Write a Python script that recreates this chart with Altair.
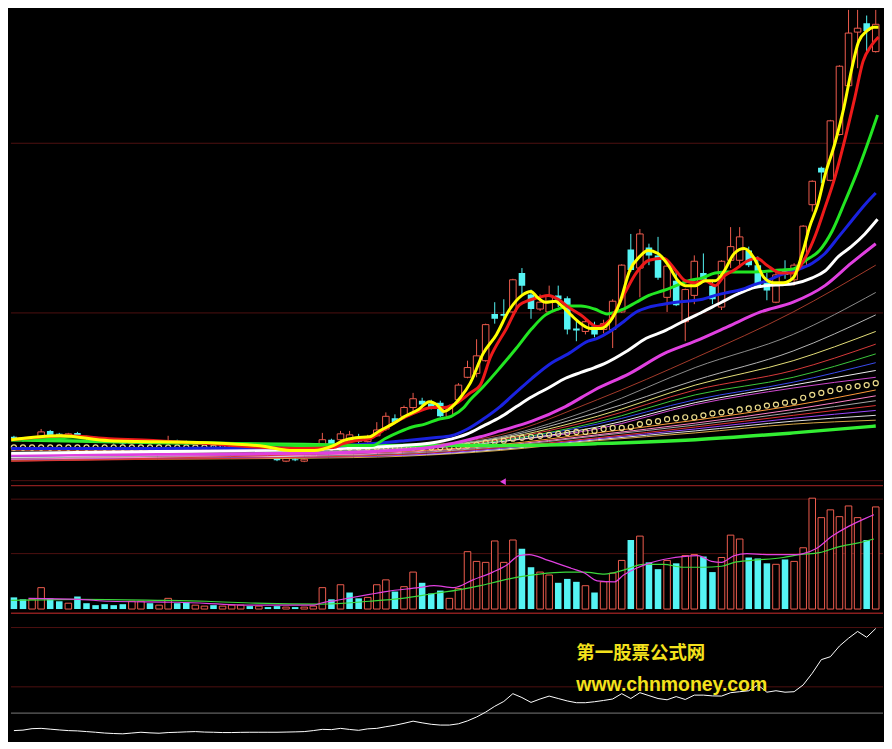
import altair as alt
import pandas as pd

# ---------------- data ----------------
idx = list(range(96))
open_ = [5.2, 5.0, 4.8, 5.1, 5.8, 5.5, 5.2, 5.6, 5.2, 5.0,
         4.9, 4.8, 4.7, 4.5, 4.6, 4.8, 4.5, 4.6, 4.8, 4.7,
         4.4, 4.4, 4.5, 4.3, 4.3, 4.3, 4.4, 4.2, 4.1, 3.1,
         2.7, 2.9, 2.7, 3.2, 4.4, 4.9, 4.9, 4.9, 4.9, 4.7,
         5.3, 6.0, 7.1, 7.3, 8.2, 8.9, 8.6, 8.7, 7.3, 9.0,
         11.3, 11.7, 13.0, 17.8, 17.8, 18.0, 22.0, 19.8, 18.3, 18.0,
         19.7, 19.4, 16.3, 16.0, 16.5, 16.2, 16.2, 18.0, 24.4, 22.5,
         24.6, 23.8, 19.5, 21.2, 17.0, 19.7, 22.0, 20.7, 18.5, 23.3,
         23.3, 24.3, 22.8, 21.0, 19.0, 22.2, 21.3, 22.7, 29.0, 32.8,
         31.5, 36.2, 41.2, 46.7, 47.6, 44.7]
high = [5.3, 5.1, 5.2, 6.0, 5.9, 5.6, 5.6, 5.7, 5.3, 5.1,
        5.0, 4.9, 4.8, 4.8, 4.9, 4.9, 4.7, 5.3, 4.9, 4.8,
        4.6, 4.6, 4.6, 4.5, 4.5, 4.5, 4.5, 4.4, 4.2, 3.2,
        3.1, 3.0, 3.0, 4.1, 5.6, 5.0, 5.8, 5.8, 5.5, 5.4,
        6.7, 7.7, 7.5, 8.4, 9.7, 9.2, 9.0, 8.9, 8.5, 10.7,
        13.0, 15.2, 16.8, 19.0, 19.3, 21.4, 22.5, 20.3, 19.8, 20.7,
        20.7, 19.6, 17.2, 17.2, 17.0, 17.2, 19.3, 22.9, 26.0, 26.5,
        25.0, 25.7, 22.8, 22.2, 20.4, 23.8, 24.0, 21.3, 23.3, 26.7,
        26.7, 24.7, 23.7, 22.0, 22.4, 23.3, 23.0, 26.9, 31.5, 32.9,
        37.7, 43.3, 49.0, 49.0, 48.4, 49.0]
low = [4.8, 4.7, 4.7, 5.0, 5.2, 5.2, 5.1, 5.1, 4.9, 4.7,
       4.6, 4.5, 4.4, 4.4, 4.5, 4.5, 4.4, 4.6, 4.5, 4.4,
       4.3, 4.3, 4.2, 4.2, 4.2, 4.2, 4.1, 4.1, 3.3, 2.7,
       2.6, 2.7, 2.6, 3.1, 4.3, 4.2, 4.8, 4.8, 4.5, 4.6,
       5.2, 5.8, 6.5, 7.0, 7.7, 8.3, 8.0, 7.2, 7.1, 8.8,
       11.2, 11.3, 12.9, 16.8, 17.3, 17.9, 19.7, 17.3, 18.1, 17.9,
       18.5, 15.7, 15.0, 15.7, 15.4, 15.8, 14.3, 17.9, 22.1, 19.5,
       22.8, 21.3, 18.0, 18.6, 15.0, 18.8, 21.0, 18.8, 18.2, 22.5,
       22.5, 22.6, 20.5, 19.2, 18.9, 21.4, 20.7, 22.4, 28.3, 31.2,
       31.4, 36.1, 41.1, 43.0, 44.5, 44.6]
close = [4.9, 4.8, 5.1, 5.7, 5.3, 5.3, 5.5, 5.2, 5.0, 4.8,
         4.7, 4.6, 4.5, 4.7, 4.8, 4.6, 4.6, 4.8, 4.6, 4.5,
         4.5, 4.5, 4.3, 4.4, 4.4, 4.4, 4.2, 4.3, 3.4, 2.8,
         3.0, 2.8, 2.9, 4.0, 4.9, 4.3, 5.5, 5.4, 4.7, 5.2,
         5.9, 7.3, 6.7, 8.2, 9.1, 8.5, 8.2, 7.3, 8.2, 10.5,
         12.3, 13.5, 16.7, 17.3, 17.6, 21.3, 20.7, 18.3, 19.0, 19.7,
         19.3, 16.2, 16.1, 17.0, 15.7, 16.8, 19.1, 22.8, 22.3, 26.0,
         23.8, 21.5, 22.7, 18.7, 20.3, 23.2, 21.3, 19.3, 23.2, 24.7,
         25.7, 22.8, 20.7, 20.2, 21.8, 21.8, 22.8, 26.8, 31.4, 32.3,
         37.6, 43.2, 46.6, 47.1, 46.8, 47.5]

volume = [12, 10, 10, 22, 11, 8, 6, 13, 6, 4,
          5, 4, 5, 8, 8, 6, 4, 11, 6, 7,
          4, 3, 4, 3, 4, 4, 3, 3, 2, 3,
          2, 2, 2, 3, 22, 10, 25, 17, 11, 12,
          25, 30, 18, 23, 38, 27, 16, 19, 11, 21,
          59, 49, 48, 70, 48, 71, 62, 43, 38, 35,
          27, 31, 28, 24, 17, 28, 37, 50, 71, 75,
          48, 41, 50, 47, 55, 56, 54, 38, 53, 76,
          72, 53, 52, 47, 46, 51, 49, 63, 114, 94,
          102, 95, 106, 94, 71, 105]
vol_up = [0, 0, 1, 1, 0, 0, 1, 0, 0, 0,
          0, 0, 0, 1, 1, 0, 1, 1, 0, 0,
          1, 1, 0, 1, 1, 1, 0, 1, 0, 0,
          1, 0, 1, 1, 1, 0, 1, 0, 0, 1,
          1, 1, 0, 1, 1, 0, 0, 0, 1, 1,
          1, 1, 1, 1, 1, 1, 0, 0, 1, 1,
          0, 0, 0, 1, 0, 1, 1, 1, 0, 1,
          0, 0, 1, 0, 1, 1, 0, 0, 1, 1,
          1, 0, 0, 0, 1, 0, 1, 1, 1, 1,
          1, 1, 1, 1, 0, 1]

vma5_idx = [1.6, 7.2, 10.5, 18.0, 26.6, 33.1, 33.8, 35.6, 39.2, 41.0,
            44.6, 46.3, 48.5, 50.6, 52.8, 54.3, 55.7, 56.8, 58.9, 61.4,
            62.9, 64.3, 66.2, 67.2, 68.6, 70.0, 72.2, 73.7, 75.4, 76.9,
            78.0, 79.4, 80.8, 83.0, 86.2, 87.0, 88.4, 90.2, 92.0, 93.8, 94.8]
vma5 = [11, 10, 8, 7, 4, 4, 6, 9, 15, 18,
        22, 24, 22, 30, 38, 45, 55, 56, 50, 42,
        37, 29, 28, 35, 42, 47, 52, 54, 55, 49,
        48, 55, 57, 56, 56, 57, 62, 75, 85, 93, 97]
vma10_idx = [-0.3, 7.2, 15.8, 21.2, 26.6, 33.8, 39.2, 42.8, 46.3, 49.2,
             51.4, 53.6, 55.7, 57.9, 60.8, 62.9, 65.1, 67.2, 69.4, 71.6,
             73.7, 75.9, 78.0, 79.4, 81.3, 84.8, 86.6, 88.8, 90.9, 93.1, 94.8]
vma10 = [9, 10, 9, 8, 6, 5, 8, 11, 16, 20,
         24, 29, 33, 36, 38, 38, 36, 40, 46, 46,
         43, 43, 44, 48, 50, 53, 56, 58, 64, 68, 72]

indicator = [-18, -17.5, -16, -15.7, -16.5, -17.3, -18, -18.3, -19, -19.7,
             -20.5, -21, -21.3, -20.5, -19.7, -20.3, -20.7, -20, -19.7, -19.3,
             -19, -19.5, -19.7, -20, -20, -19.8, -19.7, -19.7, -19.7, -19.7,
             -19.5, -19.3, -19, -18, -16.7, -17, -15.7, -16.8, -17.7, -16.2,
             -15.7, -14, -12.5, -10.5, -8.3, -10, -11.5, -12.3, -12.3, -11,
             -8, -4, 1, 7, 12, 20, 16, 11, 14.5, 17.5,
             15, 12.5, 10.7, 10.7, 11.7, 13, 14.5, 20, 15, 21,
             18, 15, 13.7, 17, 14, 18.5, 18.5, 17.7, 17.5, 21,
             22, 23, 29, 21.5, 23, 21.5, 22, 29, 41, 55,
             58, 69, 77, 84, 78, 87]

# price moving averages (index position, price)
ma5_idx = [-0.3, 5.1, 10.5, 21.2, 27.7, 30.4, 33.1, 35.2, 36.3, 37.7,
           39.2, 40.3, 41.7, 43.1, 44.6, 45.8, 46.6, 47.4, 48.2, 49.2,
           50.3, 51.7, 53.2, 54.6, 56.0, 57.0, 57.7, 58.6, 59.7, 60.3,
           61.4, 62.5, 63.6, 64.7, 65.7, 66.8, 67.9, 69.0, 69.9, 71.0,
           72.2, 73.2, 74.0, 75.1, 76.2, 77.3, 78.3, 79.4, 80.5, 81.6,
           82.7, 83.7, 84.8, 85.9, 87.0, 87.7, 88.6, 89.4, 90.5, 91.5,
           92.3, 93.1, 94.0, 94.8, 95.3]
ma5 = [4.9, 5.3, 4.8, 4.6, 4.2, 3.8, 3.8, 4.3, 4.8, 5.1,
       5.2, 5.8, 6.5, 7.3, 8.0, 8.8, 8.5, 7.8, 8.2, 9.2,
       10.7, 13.7, 15.7, 18.2, 19.7, 20.1, 19.5, 19.0, 19.1, 18.7,
       17.7, 16.8, 16.3, 16.3, 17.0, 19.0, 22.3, 23.7, 24.3, 24.0,
       22.7, 21.2, 20.7, 20.7, 21.2, 21.2, 22.2, 24.0, 24.5, 23.5,
       21.5, 21.0, 21.0, 21.5, 24.3, 26.7, 29.0, 32.0, 35.3, 39.0,
       42.7, 45.7, 46.8, 47.2, 47.2]
ma10_idx = [-0.3, 6.1, 10.5, 15.8, 21.2, 27.7, 32.0, 35.2, 36.3, 37.7,
            39.2, 40.6, 41.7, 43.1, 44.6, 46.0, 47.4, 48.9, 50.3, 51.4,
            52.5, 54.3, 55.7, 56.8, 57.9, 58.9, 60.0, 61.1, 62.5, 64.3,
            65.7, 67.2, 68.6, 70.0, 71.6, 73.0, 74.0, 75.1, 76.2, 77.3,
            78.3, 79.4, 80.8, 81.9, 83.0, 84.5, 85.9, 87.3, 88.4, 89.4,
            90.5, 91.6, 92.7, 93.6, 94.5, 95.3]
ma10 = [4.9, 5.3, 5.0, 4.8, 4.5, 4.1, 4.0, 4.1, 4.5, 4.8,
        5.0, 5.8, 6.5, 7.2, 7.8, 8.2, 8.2, 8.7, 9.7, 10.5,
        13.3, 16.3, 18.7, 19.2, 19.5, 19.7, 19.3, 18.5, 17.7, 16.5,
        17.2, 19.7, 22.0, 23.3, 23.5, 22.2, 21.2, 21.0, 21.2, 20.7,
        21.7, 22.3, 23.2, 23.5, 22.8, 22.0, 22.0, 23.7, 26.0, 28.7,
        31.8, 35.7, 40.0, 43.7, 45.3, 46.2]
ma20_idx = [-0.3, 4.0, 7.2, 11.5, 21.2, 32.0, 39.5, 40.9, 42.5, 43.9,
            45.3, 46.8, 48.2, 49.6, 50.3, 51.7, 53.6, 55.4, 57.1, 58.6,
            60.0, 61.1, 62.5, 64.0, 65.4, 67.2, 68.6, 70.0, 71.6, 73.0,
            74.4, 75.9, 77.3, 78.7, 81.6, 84.5, 85.9, 87.3, 88.8, 90.2,
            91.6, 93.1, 94.5, 95.2]
ma20 = [4.9, 5.0, 5.2, 4.8, 4.6, 4.3, 4.3, 5.0, 5.7, 6.2,
        6.5, 7.0, 7.3, 8.2, 9.0, 10.3, 12.3, 14.3, 16.3, 17.7,
        18.3, 18.6, 18.6, 18.3, 17.8, 18.3, 19.0, 19.7, 20.2, 20.7,
        21.2, 21.5, 22.0, 22.1, 22.1, 22.3, 22.4, 23.3, 24.3, 26.3,
        29.3, 32.7, 36.3, 38.2]
ma30_idx = [-0.3, 15.8, 32.0, 43.1, 46.3, 48.2, 50.0, 51.7, 53.6, 55.4,
            57.1, 59.3, 61.1, 63.3, 64.3, 65.7, 67.2, 68.6, 70.0, 71.6,
            73.0, 75.9, 77.3, 78.7, 80.2, 81.6, 83.0, 84.5, 85.9, 88.0,
            89.4, 90.9, 92.3, 93.8, 95.0]
ma30 = [4.0, 4.0, 4.1, 4.8, 5.1, 5.3, 6.0, 7.0, 8.3, 9.8,
        11.2, 12.8, 13.7, 15.0, 15.3, 16.0, 17.0, 18.0, 18.5, 18.8,
        19.0, 19.3, 19.7, 20.0, 20.3, 20.8, 21.2, 21.8, 22.2, 23.0,
        24.0, 25.7, 27.3, 29.0, 30.2]
ma60_idx = [-0.3, 15.8, 32.0, 42.8, 47.4, 50.0, 51.7, 53.6, 55.4, 57.1,
            58.9, 60.8, 62.5, 64.0, 65.1, 67.6, 69.7, 71.6, 73.7, 75.9,
            78.0, 80.2, 81.6, 83.0, 84.5, 85.9, 88.0, 89.4, 90.9, 92.3,
            93.8, 95.2]
ma60 = [3.5, 3.7, 3.9, 4.3, 4.8, 5.5, 6.3, 7.2, 8.3, 9.3,
        10.2, 11.2, 11.8, 12.3, 12.7, 14.0, 15.3, 16.0, 17.0, 18.0,
        19.0, 20.0, 20.5, 20.7, 20.8, 20.9, 21.5, 22.2, 23.7, 24.7,
        26.0, 27.5]
ma90_idx = [-0.3, 15.8, 32.0, 44.9, 51.4, 53.6, 57.1, 60.8, 64.0, 67.9,
            71.6, 75.1, 78.7, 82.3, 85.9, 89.4, 92.3, 95.0]
ma90 = [3.3, 3.4, 3.5, 4.0, 5.2, 5.8, 6.8, 8.3, 10.0, 11.7,
        13.7, 15.0, 16.5, 18.0, 19.0, 20.7, 23.0, 25.0]

# long averages (fan of thin lines), sampled at these index positions
fan_idx = [-0.3, 15.8, 32.0, 42.8, 53.6, 64.3, 75.1, 85.9, 95.0]
fan_brown = [3.8, 3.8, 3.9, 4.2, 5.4, 9.0, 13.3, 18.0, 22.8]
fan_grey1 = [3.5, 3.6, 3.7, 4.1, 5.2, 8.2, 12.3, 15.7, 20.0]
fan_grey2 = [3.3, 3.4, 3.6, 4.0, 5.1, 7.7, 11.0, 14.0, 17.7]
fan_yellow = [3.8, 3.9, 3.9, 4.1, 5.0, 7.3, 10.5, 13.0, 16.0]
fan_red = [2.7, 3.0, 3.4, 3.9, 4.9, 7.0, 10.0, 12.0, 14.7]
fan_green = [3.5, 3.6, 3.7, 4.0, 4.8, 6.7, 9.5, 11.3, 13.7]
fan_blue = [3.2, 3.4, 3.6, 3.9, 4.8, 6.5, 9.0, 10.8, 12.8]
fan_white = [3.1, 3.3, 3.5, 3.9, 4.7, 6.2, 8.7, 10.5, 12.0]
fan_magenta = [3.3, 3.3, 3.4, 3.8, 4.7, 6.0, 8.5, 10.2, 11.3]
low_orange = [3.5, 3.5, 3.5, 3.7, 4.4, 5.6, 6.9, 8.4, 10.0]
low_pink = [2.9, 3.1, 3.3, 3.6, 4.3, 5.4, 6.6, 8.0, 9.4]
low_grey = [3.0, 3.2, 3.3, 3.5, 4.2, 5.3, 6.4, 7.7, 8.9]
low_red = [2.7, 2.9, 3.1, 3.4, 4.1, 5.1, 6.2, 7.4, 8.4]
low_purple = [2.9, 3.0, 3.1, 3.3, 4.0, 5.0, 6.0, 7.1, 7.9]
low_white = [3.1, 3.1, 3.2, 3.3, 3.9, 4.9, 5.8, 6.8, 7.4]
low_gold = [2.8, 2.9, 3.0, 3.2, 3.8, 4.8, 5.6, 6.5, 6.9]
base_green = [4.9, 4.6, 4.4, 4.3, 4.3, 4.5, 4.9, 5.6, 6.3]

circles = [4.1] * 49 + [4.2, 4.3, 4.4, 4.6, 4.7, 4.8, 5.0, 5.1, 5.2, 5.3,
                        5.4, 5.5, 5.6, 5.7, 5.7, 5.8, 6.0, 6.1, 6.1, 6.2,
                        6.5, 6.7, 6.8, 7.0, 7.1, 7.2, 7.2, 7.4, 7.6, 7.7,
                        7.8, 8.0, 8.1, 8.2, 8.4, 8.5, 8.7, 8.8, 9.2, 9.5,
                        9.7, 9.9, 10.1, 10.3, 10.4, 10.5, 10.7]

price_grid = [35.3, 17.9, 0.7]
vol_grid = [113, 57]
ind_grid = [88, 27]
marker_idx = [53.9]
marker_price = [0.6]
watermark = ["第一股票公式网", "www.chnmoney.com"]

# ---------------- styling ----------------
RED = "#ee5c4e"
CYAN = "#55f4f4"
GRID = "#4e1010"
EDGE = "#8a1e1e"
W = 876
H_PRICE, H_VOL, H_IND = 480, 127, 126
XS = alt.Scale(domain=[-0.323, 95.8], nice=False, zero=False)
PS = alt.Scale(domain=[0, 49], nice=False, zero=False)
VS = alt.Scale(domain=[-5, 125], nice=False, zero=False)
IS = alt.Scale(domain=[-28, 101], nice=False, zero=False)


def xq(f):
    return alt.X(f + ":Q", scale=XS, axis=None)


# ---------------- price panel ----------------
cdf = pd.DataFrame({"i": idx, "o": open_, "h": high, "l": low, "c": close})
cdf["dir"] = ["up" if c >= o else "down" for o, c in zip(open_, close)]
cdf["x0"] = cdf["i"] - 0.36
cdf["x1"] = cdf["i"] + 0.36
cdf["top"] = cdf[["o", "c"]].max(axis=1)
cdf["bot"] = cdf[["o", "c"]].min(axis=1)

dir_color = alt.Color("dir:N", scale=alt.Scale(domain=["up", "down"], range=[RED, CYAN]), legend=None)

layers = []
layers.append(alt.Chart(pd.DataFrame({"p": price_grid})).mark_rule(color=GRID, strokeWidth=1)
              .encode(y=alt.Y("p:Q", scale=PS, axis=None)))
layers.append(alt.Chart(pd.DataFrame({"p": [0.2]})).mark_rule(color=EDGE, strokeWidth=1.2)
              .encode(y=alt.Y("p:Q", scale=PS, axis=None)))
layers.append(alt.Chart(cdf).mark_rule(strokeWidth=1, clip=True)
              .encode(x=xq("i"), y=alt.Y("l:Q", scale=PS, axis=None), y2="h:Q", color=dir_color))
layers.append(alt.Chart(cdf).transform_filter("datum.dir == 'up'")
              .mark_bar(fill="black", stroke=RED, strokeWidth=1, clip=True)
              .encode(x=xq("x0"), x2="x1:Q", y=alt.Y("bot:Q", scale=PS, axis=None), y2="top:Q"))
layers.append(alt.Chart(cdf).transform_filter("datum.dir == 'down'")
              .mark_bar(color=CYAN, clip=True)
              .encode(x=xq("x0"), x2="x1:Q", y=alt.Y("bot:Q", scale=PS, axis=None), y2="top:Q"))


def line_layer(xs, ys, color, width, scale=PS, interp="monotone"):
    df = pd.DataFrame({"i": xs, "p": ys})
    return (alt.Chart(df).mark_line(color=color, strokeWidth=width, interpolate=interp, clip=True)
            .encode(x=xq("i"), y=alt.Y("p:Q", scale=scale, axis=None)))


for vals, col in [(low_gold, "#d8a848"), (low_white, "#e0e0e0"), (low_purple, "#9a48ff"),
                  (low_red, "#e03434"), (low_grey, "#a8a8a8"), (low_pink, "#ff80c8"),
                  (low_orange, "#ff9a3a"), (fan_magenta, "#d048d0"), (fan_white, "#f0f0f0"),
                  (fan_blue, "#3a4cf0"), (fan_green, "#3cc83c"), (fan_red, "#d83a3a"),
                  (fan_yellow, "#e6e07a"), (fan_grey2, "#b4b4b4"), (fan_grey1, "#8c8c8c"),
                  (fan_brown, "#a33a2a")]:
    layers.append(line_layer(fan_idx, vals, col, 1))

layers.append(alt.Chart(pd.DataFrame({"i": idx, "p": circles}))
              .mark_point(shape="circle", filled=False, size=26, color="#ecdc8c", strokeWidth=1.2, opacity=1)
              .encode(x=xq("i"), y=alt.Y("p:Q", scale=PS, axis=None)))
layers.append(line_layer(fan_idx, base_green, "#33ee33", 3.5))
layers.append(line_layer(ma90_idx, ma90, "#e040e0", 3))
layers.append(line_layer(ma60_idx, ma60, "#ffffff", 3))
layers.append(line_layer(ma30_idx, ma30, "#1a22e0", 3))
layers.append(line_layer(ma20_idx, ma20, "#22e622", 3))
layers.append(line_layer(ma10_idx, ma10, "#ee1a1a", 3))
layers.append(line_layer(ma5_idx, ma5, "#ffff00", 3))
layers.append(alt.Chart(pd.DataFrame({"i": marker_idx, "p": marker_price}))
              .mark_point(shape="triangle-left", filled=True, size=45, color="#e040e0", opacity=1)
              .encode(x=xq("i"), y=alt.Y("p:Q", scale=PS, axis=None)))

price = alt.layer(*layers).properties(width=W, height=H_PRICE)

# ---------------- volume panel ----------------
vdf = pd.DataFrame({"i": idx, "v": volume, "dir": ["up" if u else "down" for u in vol_up]})
vdf["x0"] = vdf["i"] - 0.36
vdf["x1"] = vdf["i"] + 0.36
vdf["zero"] = 0

vlayers = [
    alt.Chart(pd.DataFrame({"v": vol_grid})).mark_rule(color=GRID, strokeWidth=1)
    .encode(y=alt.Y("v:Q", scale=VS, axis=None)),
    alt.Chart(pd.DataFrame({"v": [-4.3]})).mark_rule(color=EDGE, strokeWidth=1.5)
    .encode(y=alt.Y("v:Q", scale=VS, axis=None)),
    alt.Chart(vdf).transform_filter("datum.dir == 'up'")
    .mark_bar(fill="black", stroke=RED, strokeWidth=1)
    .encode(x=xq("x0"), x2="x1:Q", y=alt.Y("zero:Q", scale=VS, axis=None), y2="v:Q"),
    alt.Chart(vdf).transform_filter("datum.dir == 'down'")
    .mark_bar(color=CYAN)
    .encode(x=xq("x0"), x2="x1:Q", y=alt.Y("zero:Q", scale=VS, axis=None), y2="v:Q"),
    line_layer(vma10_idx, vma10, "#3cd83c", 1.2, VS),
    line_layer(vma5_idx, vma5, "#e040e0", 1.2, VS),
]
vol = alt.layer(*vlayers).properties(width=W, height=H_VOL)

# ---------------- indicator panel ----------------
tdf = pd.DataFrame({"i": [62.0, 62.0], "v": [62, 29], "t": watermark})
ilayers = [
    alt.Chart(pd.DataFrame({"v": ind_grid})).mark_rule(color=GRID, strokeWidth=1)
    .encode(y=alt.Y("v:Q", scale=IS, axis=None)),
    alt.Chart(pd.DataFrame({"v": [0]})).mark_rule(color="#7a7a7a", strokeWidth=1)
    .encode(y=alt.Y("v:Q", scale=IS, axis=None)),
    line_layer(idx, indicator, "#ffffff", 1, IS, "linear"),
    alt.Chart(tdf.iloc[[0]]).mark_text(align="left", baseline="middle", font="Noto Sans CJK SC",
                                       fontSize=18.5, fontWeight="bold", color="#f4e21c")
    .encode(x=xq("i"), y=alt.Y("v:Q", scale=IS, axis=None), text="t:N"),
    alt.Chart(tdf.iloc[[1]]).mark_text(align="left", baseline="middle", font="Liberation Sans",
                                       fontSize=19.5, fontWeight="bold", color="#f4e21c")
    .encode(x=xq("i"), y=alt.Y("v:Q", scale=IS, axis=None), text="t:N"),
]
ind = alt.layer(*ilayers).properties(width=W, height=H_IND)

chart = (alt.vconcat(price, vol, ind, spacing=0)
         .properties(background="black", padding=0)
         .configure_view(stroke=None)
         .configure_concat(spacing=0))

chart.save("out.html", embed_options={"renderer": "svg", "actions": False})
